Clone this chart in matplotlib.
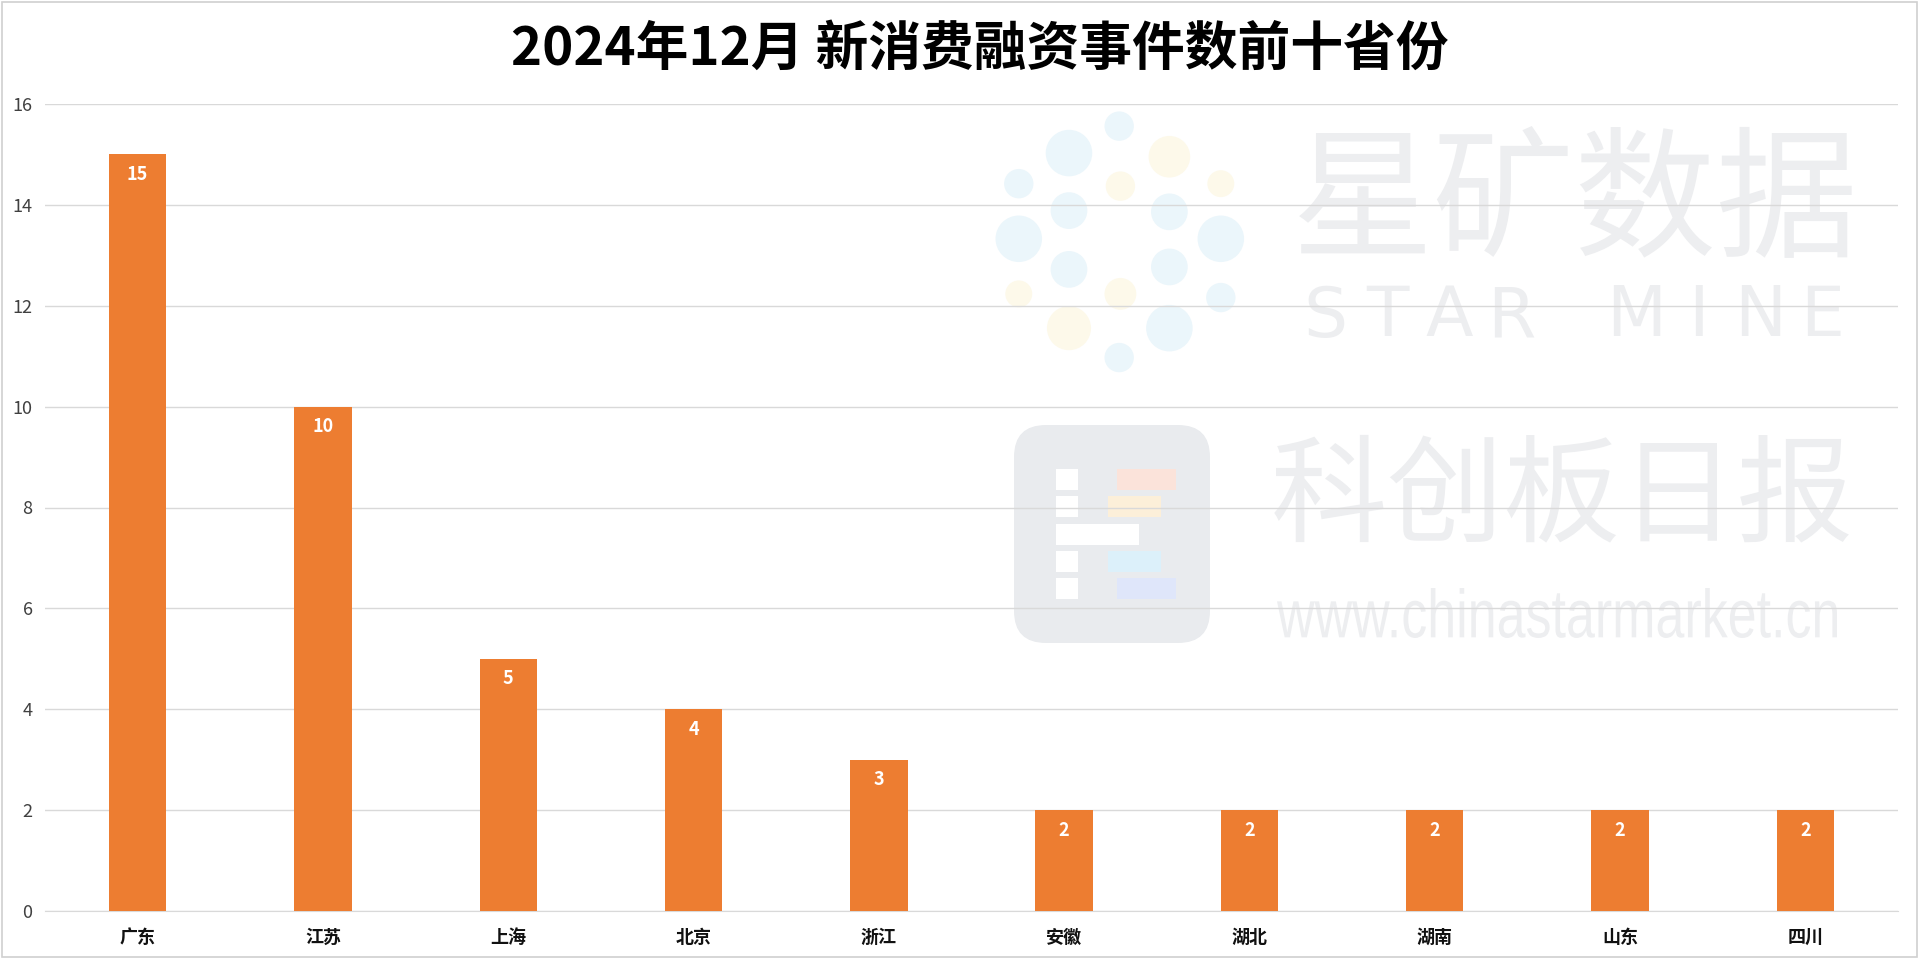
import matplotlib
matplotlib.use("Agg")
import matplotlib.pyplot as plt
from matplotlib.patches import Circle, Rectangle, FancyBboxPatch, PathPatch
from matplotlib.textpath import TextPath
from matplotlib.font_manager import FontProperties
from matplotlib.transforms import Affine2D

plt.rcParams['font.family'] = ['Noto Sans CJK SC', 'DejaVu Sans']

# data
provinces = ['广东', '江苏', '上海', '北京', '浙江', '安徽', '湖北', '湖南', '山东', '四川']
counts = [15, 10, 5, 4, 3, 2, 2, 2, 2, 2]
y_ticks = [0, 2, 4, 6, 8, 10, 12, 14, 16]
title = '2024年12月 新消费融资事件数前十省份'

bar_color = '#ED7D31'
grid_color = '#d9d9d9'
wm_grey = '#edeef0'

fig = plt.figure(figsize=(19.2, 9.6), dpi=100)

# background layer for the watermark (pixel coordinates)
bg = fig.add_axes([0, 0, 1, 1], zorder=0)
bg.set_xlim(0, 1920)
bg.set_ylim(960, 0)
bg.axis('off')

# outer frame
bg.add_patch(Rectangle((2, 2), 1915, 955, fill=False, edgecolor='#d0d0d0', lw=1.2))

# dotted logo
blue, yellow = '#ebf6fb', '#fdf9ea'
dots = [(914, 103, 12, blue), (873, 125, 19, blue), (955, 128, 17, yellow),
        (832, 150, 12, blue), (915, 152, 12, yellow), (997, 150, 11, yellow),
        (873, 172, 15, blue), (955, 173, 15, blue), (832, 195, 19, blue),
        (997, 195, 19, blue), (873, 220, 15, blue), (955, 218, 15, blue),
        (832, 240, 11, yellow), (915, 240, 13, yellow), (997, 243, 12, blue),
        (873, 268, 18, yellow), (955, 268, 19, blue), (914, 292, 12, blue)]
s = 1920 / 1568
for x, y, r, c in dots:
    bg.add_patch(Circle((x * s, y * s), r * s, color=c, lw=0))

# rounded square logo
bg.add_patch(FancyBboxPatch((1014, 425), 196, 218, boxstyle='round,pad=0,rounding_size=32',
                            facecolor='#e9ebee', edgecolor='none'))
blocks = [(862, 383, 18, 17, 'white'), (862, 405, 18, 17, 'white'),
          (862, 428, 68, 17, 'white'), (862, 450, 18, 17, 'white'),
          (862, 472, 18, 17, 'white'),
          (912, 383, 48, 17, '#fbe3da'), (905, 405, 43, 17, '#fcefd9'),
          (905, 450, 43, 17, '#dcf0fa'), (912, 472, 48, 17, '#dfe6fa')]
for x, y, w, h, c in blocks:
    bg.add_patch(Rectangle((x * s, y * s), w * s, h * s, color=c, lw=0))

bg.text(1575, 205, '星矿数据', fontsize=102, color=wm_grey, ha='center', va='center')
for i, ch in enumerate('STAR MINE'):
    bg.text(1294 + 31 + 62.2 * i, 317, ch, fontsize=50, color=wm_grey,
            ha='center', va='center', family=['DejaVu Sans'])
bg.text(1562, 500, '科创板日报', fontsize=84, color=wm_grey, ha='center', va='center')

# narrow url text: squeeze a text path to the width of the reference
url = TextPath((0, 0), 'www.chinastarmarket.cn', size=100,
               prop=FontProperties(family='Liberation Sans'))
ext = url.get_extents()
sx = 560 / ext.width
sy = 50 / ext.height
tr = Affine2D().translate(-ext.x0, -ext.y0).scale(sx, -sy).translate(1277, 638)
bg.add_patch(PathPatch(tr.transform_path(url), facecolor=wm_grey, edgecolor='none'))

# main chart
ax = fig.add_axes([45 / 1920, 49 / 960, 1853 / 1920, 807 / 960], zorder=1)
ax.set_facecolor('none')
x = range(len(provinces))
bars = ax.bar(x, counts, width=0.31, color=bar_color, zorder=3)
for b, v in zip(bars, counts):
    ax.text(b.get_x() + b.get_width() / 2, v - 0.4, str(v), ha='center', va='center',
            color='white', fontsize=13, fontweight='bold', zorder=4)

ax.set_xlim(-0.5, len(provinces) - 0.5)
ax.set_ylim(0, 16)
ax.set_yticks(y_ticks)
ax.set_yticklabels([str(t) for t in y_ticks], fontsize=13, color='#404040')
ax.set_xticks(list(x))
ax.set_xticklabels(provinces, fontsize=13, fontweight='bold', color='#111111')
ax.tick_params(axis='both', length=0)
ax.tick_params(axis='x', pad=12)
ax.tick_params(axis='y', pad=9)
ax.grid(axis='y', color=grid_color, lw=1, zorder=1)
ax.set_axisbelow(True)
for sp in ['top', 'right', 'left']:
    ax.spines[sp].set_visible(False)
ax.spines['bottom'].set_color(grid_color)

fig.text(980 / 1920, 1 - 49 / 960, title, ha='center', va='center', fontsize=38,
         fontweight='bold', color='black')

fig.savefig('out.png', dpi=100, facecolor='white')
